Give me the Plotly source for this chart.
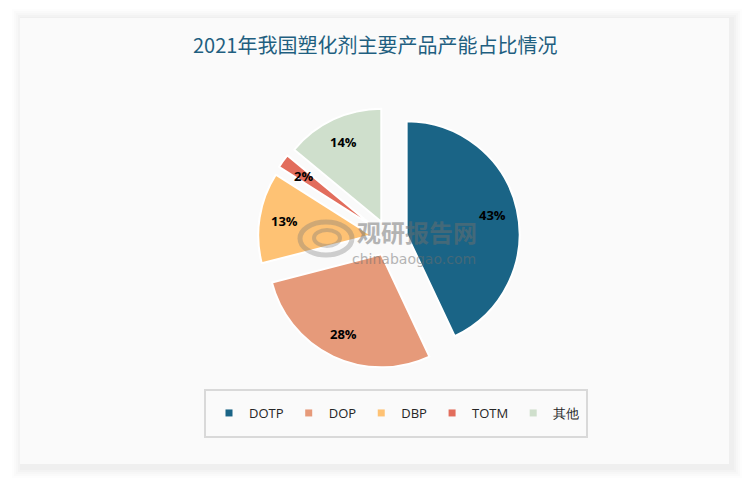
import math
import plotly.graph_objects as go

labels = ["DOTP", "DOP", "DBP", "TOTM", "其他"]
values = [43, 28, 13, 2, 14]
colors = ["#1a6486", "#e69a7a", "#fec274", "#e26d5c", "#cfdfcc"]
title_text = "2021年我国塑化剂主要产品产能占比情况"

W, H = 750, 483

def px_x(x):
    return x / W

def px_y(y):
    return 1 - y / H

# pie geometry (pixels)
pie_left, pie_right, pie_top, pie_bottom = 258, 520, 107, 369
pull = 0.16
cx = (pie_left + pie_right) / 2
cy = (pie_top + pie_bottom) / 2
radius = min(pie_right - pie_left, pie_bottom - pie_top) / 2 / (1 + pull)
label_frac = 0.78

fig = go.Figure()

fig.add_trace(go.Pie(
    labels=labels,
    values=values,
    sort=False,
    direction="clockwise",
    rotation=0,
    pull=[pull] * len(values),
    marker=dict(colors=colors, line=dict(color="white", width=2)),
    textinfo="none",
    showlegend=False,
    domain=dict(x=[px_x(pie_left), px_x(pie_right)], y=[px_y(pie_bottom), px_y(pie_top)]),
    hoverinfo="label+percent",
))

# legend entries (square markers)
for lab, col in zip(labels, colors):
    fig.add_trace(go.Scatter(
        x=[None], y=[None], mode="markers", name=lab,
        marker=dict(symbol="square", size=7, color=col),
        showlegend=True,
    ))

annotations = []
# percentage labels, positioned from the slice angles
total = sum(values)
cum = 0
for v in values:
    mid = (cum + v / 2) / total * 2 * math.pi
    cum += v
    dx, dy = math.sin(mid), -math.cos(mid)
    tipx = cx + dx * pull * radius
    tipy = cy + dy * pull * radius
    lx = tipx + dx * label_frac * radius
    ly = tipy + dy * label_frac * radius
    annotations.append(dict(
        text=f"<b>{round(v / total * 100)}%</b>", x=px_x(lx), y=px_y(ly),
        xref="paper", yref="paper", showarrow=False,
        xanchor="center", yanchor="middle",
        font=dict(family="Open Sans", size=13, color="black")))

shapes = []
# soft shadow around the card
for i, op in enumerate([0.008, 0.01, 0.012, 0.014, 0.016]):
    g = 10 - 2 * i
    shapes.append(dict(type="rect", xref="paper", yref="paper",
                       x0=px_x(20 - g + 2), x1=px_x(730 + g + 2),
                       y0=px_y(465 + g + 3), y1=px_y(18 - g + 1),
                       line=dict(width=0), fillcolor=f"rgba(0,0,0,{op})", layer="below"))
shapes.append(dict(type="rect", xref="paper", yref="paper",
                   x0=px_x(20), x1=px_x(729), y0=px_y(464), y1=px_y(18),
                   line=dict(width=0), fillcolor="#fafafa", layer="below"))
# legend frame
shapes.append(dict(type="rect", xref="paper", yref="paper",
                   x0=px_x(205), x1=px_x(587), y0=px_y(437), y1=px_y(390),
                   line=dict(color="#d9d9d9", width=2), fillcolor="rgba(0,0,0,0)", layer="below"))
# watermark logo (rough swirl)
shapes.append(dict(type="circle", xref="paper", yref="paper",
                   x0=px_x(300), x1=px_x(352), y0=px_y(255), y1=px_y(222),
                   line=dict(color="rgba(120,120,120,0.35)", width=5), layer="above"))
shapes.append(dict(type="circle", xref="paper", yref="paper",
                   x0=px_x(314), x1=px_x(340), y0=px_y(246), y1=px_y(230),
                   line=dict(color="rgba(120,120,120,0.35)", width=4), layer="above"))

annotations += [
    dict(text=title_text, x=px_x(375), y=px_y(45), xref="paper", yref="paper",
         showarrow=False, xanchor="center", yanchor="middle",
         font=dict(family="Noto Sans CJK SC", size=20, color="#1f5f80")),
    dict(text="<b>观研报告网</b>", x=px_x(417), y=px_y(231), xref="paper", yref="paper",
         showarrow=False, xanchor="center", yanchor="middle", opacity=0.5,
         font=dict(family="Noto Sans CJK SC", size=24, color="#6e6e6e")),
    dict(text="chinabaogao.com", x=px_x(414), y=px_y(259), xref="paper", yref="paper",
         showarrow=False, xanchor="center", yanchor="middle", opacity=0.5,
         font=dict(family="DejaVu Sans", size=14, color="#6e6e6e")),
]

fig.update_layout(
    width=W, height=H,
    margin=dict(l=0, r=0, t=0, b=0),
    paper_bgcolor="white",
    plot_bgcolor="rgba(0,0,0,0)",
    xaxis=dict(visible=False),
    yaxis=dict(visible=False),
    shapes=shapes,
    annotations=annotations,
    legend=dict(orientation="h", x=px_x(397), y=px_y(413), xanchor="center", yanchor="middle",
                bgcolor="rgba(0,0,0,0)", borderwidth=0,
                font=dict(family="Open Sans", size=13, color="#262626"),
                itemwidth=30, traceorder="normal"),
)

fig.write_html("out.html")
